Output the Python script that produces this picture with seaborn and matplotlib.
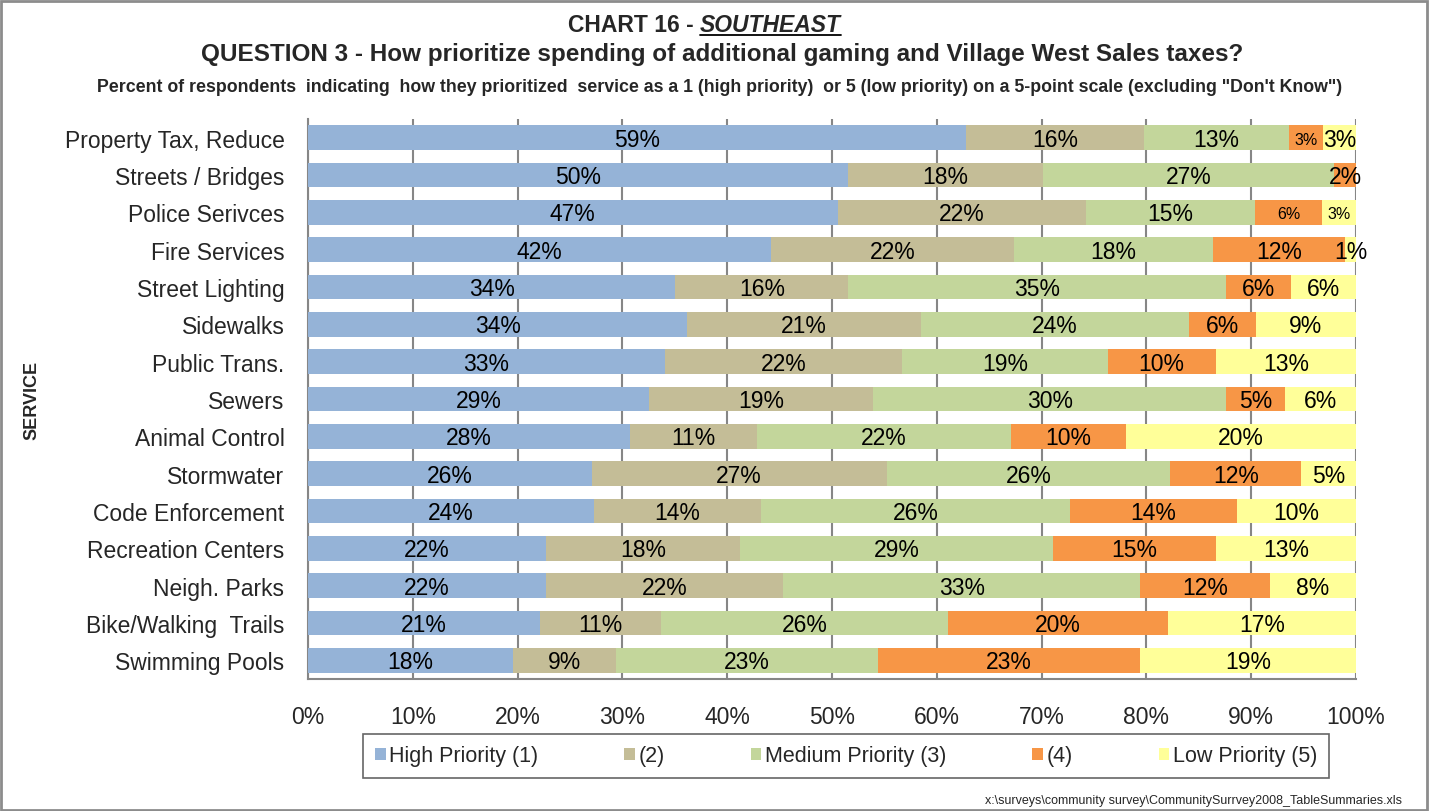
import numpy as np
import pandas as pd
import seaborn as sns
import matplotlib.pyplot as plt
from matplotlib.patches import Rectangle
from matplotlib.lines import Line2D

services = ['Property Tax, Reduce', 'Streets / Bridges', 'Police Serivces', 'Fire Services',
            'Street Lighting', 'Sidewalks', 'Public Trans.', 'Sewers', 'Animal Control',
            'Stormwater', 'Code Enforcement', 'Recreation Centers', 'Neigh. Parks',
            'Bike/Walking  Trails', 'Swimming Pools']
high = [59, 50, 47, 42, 34, 34, 33, 29, 28, 26, 24, 22, 22, 21, 18]
p2 = [16, 18, 22, 22, 16, 21, 22, 19, 11, 27, 14, 18, 22, 11, 9]
medium = [13, 27, 15, 18, 35, 24, 19, 30, 22, 26, 26, 29, 33, 26, 23]
p4 = [3, 2, 6, 12, 6, 6, 10, 5, 10, 12, 14, 15, 12, 20, 23]
low = [3, 0, 3, 1, 6, 9, 13, 6, 20, 5, 10, 13, 8, 17, 19]

levels = ['High Priority (1)', '(2)', 'Medium Priority (3)', '(4)', 'Low Priority (5)']
colors = ['#95B3D7', '#C4BD97', '#C3D69B', '#F79646', '#FFFF99']
# labels drawn smaller in the original (row, level)
small = {(0, 3), (2, 3), (2, 4)}

df = pd.DataFrame({'service': services, levels[0]: high, levels[1]: p2,
                   levels[2]: medium, levels[3]: p4, levels[4]: low})
vals = df[levels]
share = vals.div(vals.sum(axis=1), axis=0) * 100
cum = share.cumsum(axis=1)

sns.set_style('white')
plt.rcParams['font.family'] = ['Liberation Sans', 'DejaVu Sans']
narrow = ['Liberation Sans Narrow', 'Liberation Sans', 'DejaVu Sans']

fig = plt.figure(figsize=(14.3, 8.12), dpi=100)
ax = fig.add_axes([308 / 1430, 1 - 680 / 812, 1048 / 1430, 560 / 812])

# stacked bars: draw cumulative totals from the longest down
for lev, col in reversed(list(zip(levels, colors))):
    sns.barplot(x=cum[lev], y=df['service'], order=services, orient='h', color=col,
                saturation=1, width=0.66, linewidth=0, ax=ax, zorder=3)

# segment labels
for i in range(len(services)):
    for j, lev in enumerate(levels):
        v = vals.iloc[i, j]
        if v == 0:
            continue
        mid = cum.iloc[i, j] - share.iloc[i, j] / 2
        fs = 11.5 if (i, j) in small else 16.5
        ax.text(mid, i + 0.04, f'{v}%', ha='center', va='center', fontsize=fs,
                color='black', zorder=5)

ax.set_xlim(0, 100)
ax.set_ylim(len(services) - 0.5, -0.5)
ax.set_xticks(np.arange(0, 101, 10))
ax.set_xticklabels([f'{t}%' for t in range(0, 101, 10)], fontsize=16.5)
ax.set_yticks(range(len(services)))
ax.set_yticklabels(services, fontsize=16.5)
ax.set_yticks(np.arange(-0.5, len(services), 1), minor=True)
ax.tick_params(axis='y', which='major', length=0, pad=17)
ax.tick_params(axis='y', which='minor', length=7, color='#868686', width=1.5)
ax.tick_params(axis='x', length=7, color='#868686', width=1.5, pad=12)
ax.set_xlabel('')
ax.set_ylabel('')
ax.grid(axis='x', color='#868686', linewidth=1.5, zorder=0)
ax.set_axisbelow(True)
for s in ['top', 'right']:
    ax.spines[s].set_visible(False)
for s in ['left', 'bottom']:
    ax.spines[s].set_color('#868686')
    ax.spines[s].set_linewidth(1.5)

# legend
handles = [Rectangle((0, 0), 1, 1, facecolor=c, edgecolor='none') for c in colors]
leg = fig.legend(handles, levels, loc='center', bbox_to_anchor=(846 / 1430, 1 - 757 / 812),
                 ncol=5, fontsize=15.5, frameon=True, fancybox=False, handlelength=0.5,
                 handleheight=0.5, handletextpad=0.15, columnspacing=4.0, borderpad=0.55)
leg.get_frame().set_edgecolor('#404040')
leg.get_frame().set_linewidth(1.2)

# titles
t1 = fig.text(0, 1 - 25 / 812, 'CHART 16 - ', fontsize=16.5, fontweight='bold', family=narrow,
              va='center', ha='left')
t2 = fig.text(0, 1 - 25 / 812, 'SOUTHEAST', fontsize=16.5, fontweight='bold', style='italic',
              family=narrow, va='center', ha='left')
fig.text(722 / 1430, 1 - 54 / 812,
         'QUESTION 3 - How prioritize spending of additional gaming and Village West Sales taxes?',
         fontsize=17.5, fontweight='bold', family=narrow, ha='center', va='center')
fig.text(720 / 1430, 1 - 88 / 812,
         'Percent of respondents  indicating  how they prioritized  service as a 1 (high priority)  or 5 (low priority) on a 5-point scale (excluding "Don\'t Know")',
         fontsize=12.8, fontweight='bold', family=narrow, ha='center', va='center')
fig.text(32 / 1430, 1 - 400 / 812, 'SERVICE', fontsize=13, fontweight='bold', family=narrow,
         rotation=90, ha='center', va='center')
fig.text(1402 / 1430, 1 - 801 / 812,
         'x:\\surveys\\community survey\\CommunitySurrvey2008_TableSummaries.xls',
         fontsize=9, family=narrow, ha='right', va='center')

fig.canvas.draw()
r = fig.canvas.get_renderer()
b1 = t1.get_window_extent(r)
b2 = t2.get_window_extent(r)
W = fig.bbox.width
total = (b1.width + b2.width) / W
start = 704 / 1430 - total / 2
t1.set_x(start)
t2.set_x(start + b1.width / W)
fig.canvas.draw()
b2 = t2.get_window_extent(r)
fig.add_artist(Line2D([b2.x0 / W, b2.x1 / W], [(b2.y0 + 1) / fig.bbox.height] * 2,
                      color='black', linewidth=1.3))

# outer border
fig.add_artist(Rectangle((0.001, 0.001), 0.997, 0.997, transform=fig.transFigure,
                         fill=False, edgecolor='#8c8c8c', linewidth=2))

fig.savefig('out.png', dpi=100)
